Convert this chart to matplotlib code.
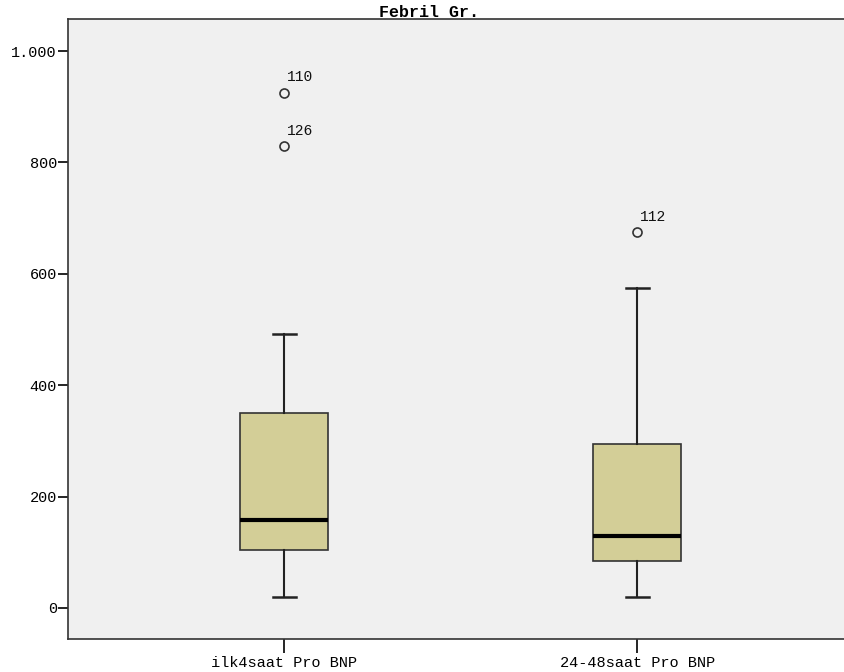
#!/usr/bin/env python3
"""Boxplot of Pro BNP at two time points, febrile group."""
import matplotlib
matplotlib.use("Agg")
import matplotlib.pyplot as plt
from matplotlib.ticker import FuncFormatter

LABELS = ["ilk4saat Pro BNP", "24-48saat Pro BNP"]
WHISKER_LOW = [20, 20]
Q1 = [104, 84]
MEDIAN = [158, 129]
Q3 = [350, 294]
WHISKER_HIGH = [492, 575]
OUTLIERS = [[925, 829], [675]]
OUTLIER_IDS = [["110", "126"], ["112"]]

BOX_COLOR = "#d3ce97"
BG_COLOR = "#f0f0f0"

plt.rcParams["font.family"] = ["Liberation Mono", "DejaVu Sans Mono"]

fig = plt.figure(figsize=(8.44, 6.72), dpi=100)
ax = fig.add_axes([68 / 844, 1 - 639 / 672, 1 - 68 / 844, (639 - 19) / 672])
ax.set_facecolor(BG_COLOR)

stats = []
for i, lab in enumerate(LABELS):
    stats.append({
        "label": lab,
        "whislo": WHISKER_LOW[i],
        "q1": Q1[i],
        "med": MEDIAN[i],
        "q3": Q3[i],
        "whishi": WHISKER_HIGH[i],
        "fliers": OUTLIERS[i],
    })

ax.bxp(
    stats,
    positions=[0, 1],
    widths=0.25,
    patch_artist=True,
    boxprops=dict(facecolor=BOX_COLOR, edgecolor="#333333", linewidth=1.2),
    medianprops=dict(color="black", linewidth=3),
    whiskerprops=dict(color="#222222", linewidth=1.5),
    capprops=dict(color="#222222", linewidth=1.8),
    capwidths=0.065,
    flierprops=dict(marker="o", markerfacecolor="none", markeredgecolor="#333333",
                    markersize=6.5, markeredgewidth=1.2),
)

for i, (vals, ids) in enumerate(zip(OUTLIERS, OUTLIER_IDS)):
    for v, t in zip(vals, ids):
        ax.annotate(t, (i, v), xytext=(2, 6), textcoords="offset points",
                    fontsize=10.5, color="#111111", ha="left", va="bottom")

ax.set_xlim(-0.612, 1.586)
ax.set_ylim(-55.7, 1057.5)
ax.set_yticks([0, 200, 400, 600, 800, 1000])
ax.yaxis.set_major_formatter(FuncFormatter(lambda v, p: f"{int(v):,}".replace(",", ".")))
ax.set_xticks([0, 1])
ax.set_xticklabels(LABELS)

for side in ("top", "left", "bottom"):
    ax.spines[side].set_color("#333333")
    ax.spines[side].set_linewidth(1.2)
ax.spines["right"].set_visible(False)

ax.tick_params(axis="y", direction="out", length=7, width=1.2, labelsize=11, pad=1)
ax.tick_params(axis="x", direction="out", length=10, width=1.2, labelsize=11, pad=2)

fig.text(429 / 844, 1 - 17 / 672, "Febril Gr.", ha="center", va="baseline",
         fontsize=12, fontweight="bold")

fig.savefig("out.png", dpi=100)
